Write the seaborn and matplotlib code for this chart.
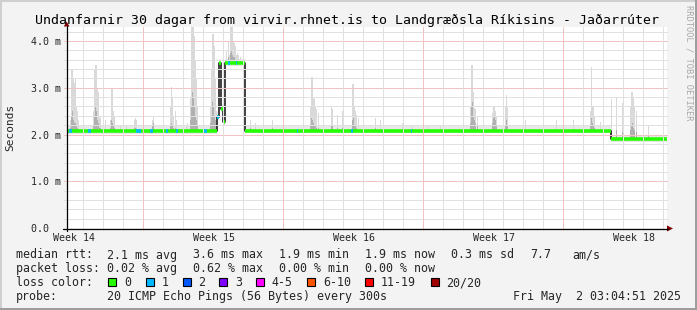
import numpy as np
import pandas as pd
import matplotlib
matplotlib.use("Agg")
import matplotlib.pyplot as plt
import seaborn as sns
from matplotlib.patches import Rectangle, Polygon

sns.set_style("white")
plt.rcParams["font.family"] = ["DejaVu Sans Mono", "DejaVu Sans"]

# ---------------- data ----------------
title = "Undanfarnir 30 dagar from virvir.rhnet.is to Landgræðsla Ríkisins - Jaðarrúter"
week_labels = ["Week 14", "Week 15", "Week 16", "Week 17", "Week 18"]
week_centers = [0.35, 7.35, 14.35, 21.35, 28.35]      # days since start
week_starts = [3.8, 10.8, 17.8, 24.8]                 # major grid (days)
day_lines = [0.8 + k for k in range(30)]              # minor grid (days)
y_ticks = [0, 1, 2, 3, 4]
y_tick_labels = ["0.0  ", "1.0 m", "2.0 m", "3.0 m", "4.0 m"]

# median rtt (ms), step function: value holds from med_day[i] to med_day[i+1]
med_day = [0, 7.50, 7.60, 7.70, 7.80, 7.90, 8.90, 27.20]
med_ms = [2.075, 2.38, 3.52, 2.55, 2.27, 3.52, 2.085, 1.90]

# periods with 1/20 packet loss (days)
loss1_start = [0.10, 1.05, 3.45, 4.15, 4.95, 5.45, 6.80, 7.50, 8.05, 8.45, 11.50, 14.20, 17.20]
loss1_end = [0.25, 1.20, 3.70, 4.30, 5.05, 5.55, 7.00, 7.60, 8.15, 8.50, 11.55, 14.30, 17.25]

# smoke (ping spread) per column: day, highest ping (ms), dense core top (ms)
smoke_day = [0.15, 0.20, 0.25, 0.30, 0.35, 0.40, 0.45, 0.50, 0.55,
             1.30, 1.35, 1.40, 1.45, 1.50, 1.55, 1.60, 1.65,
             1.80, 1.90,
             2.15, 2.20, 2.25, 2.30, 2.35,
             2.65, 2.80, 2.95,
             3.35, 3.40, 3.45,
             4.25, 4.30,
             5.15, 5.20, 5.25, 5.30, 5.40, 5.45,
             5.95, 6.00,
             6.15, 6.20, 6.25, 6.30, 6.35, 6.40, 6.45, 6.50,
             7.15, 7.20, 7.25, 7.30, 7.35, 7.40, 7.45,
             7.95, 8.05, 8.10, 8.15, 8.20, 8.25, 8.30, 8.35, 8.40, 8.45, 8.50, 8.55, 8.65, 8.75,
             9.15, 9.40, 9.80, 10.25, 10.80,
             12.15, 12.20, 12.25, 12.30, 12.35, 12.40, 12.45, 12.55,
             13.20, 13.25, 13.50, 13.75,
             14.25, 14.30, 14.35, 14.40, 14.45, 14.55,
             15.40, 15.65, 16.75, 17.25, 18.05, 18.65,
             20.15, 20.20, 20.25, 20.30, 20.35, 20.40, 20.50,
             21.25, 21.30, 21.35, 21.40, 21.45,
             21.90, 21.95, 22.00,
             22.90, 24.45, 25.30,
             26.15, 26.20, 26.25, 26.30, 26.35, 26.65,
             27.20, 27.45, 27.75, 28.15, 28.20, 28.25, 28.30, 28.35, 28.45, 29.05]
smoke_top = [2.30, 3.39, 3.39, 3.20, 3.10, 3.20, 2.60, 2.50, 2.30,
             2.50, 3.38, 3.49, 3.49, 3.00, 2.90, 2.40, 2.35,
             2.40, 2.30,
             2.30, 2.99, 2.99, 2.50, 2.40,
             2.20, 2.25, 2.20,
             2.30, 2.35, 2.30,
             2.30, 2.40,
             2.60, 3.01, 2.80, 2.40, 2.50, 2.30,
             2.20, 2.25,
             2.80, 4.30, 4.30, 4.30, 4.10, 3.60, 3.20, 2.60,
             2.60, 3.40, 4.16, 4.16, 3.90, 3.20, 2.50,
             3.80, 4.00, 3.70, 4.30, 4.30, 4.30, 4.00, 3.95, 3.90, 3.70, 3.75, 3.70, 3.65, 3.60,
             2.30, 2.25, 2.20, 2.31, 2.40,
             2.60, 3.24, 3.24, 2.80, 2.77, 2.60, 2.55, 2.45,
             2.60, 2.55, 2.42, 2.50,
             3.09, 3.09, 2.60, 2.50, 2.42, 2.35,
             2.35, 2.30, 2.25, 2.20, 2.20, 2.20,
             2.60, 3.49, 3.49, 2.90, 2.56, 2.55, 2.40,
             2.45, 2.60, 2.60, 2.50, 2.40,
             2.60, 2.85, 2.60,
             2.30, 2.30, 2.31,
             2.50, 3.44, 2.60, 2.60, 2.40, 2.27,
             2.75, 2.81, 2.67, 2.60, 2.92, 2.92, 2.80, 2.60, 2.50, 2.20]
smoke_core = [2.15, 2.40, 2.50, 2.30, 2.25, 2.25, 2.20, 2.15, 2.12,
              2.20, 2.40, 2.60, 2.50, 2.30, 2.25, 2.15, 2.15,
              2.15, 2.12,
              2.15, 2.30, 2.25, 2.18, 2.15,
              2.12, 2.12, 2.12,
              2.15, 2.15, 2.12,
              2.20, 2.25,
              2.20, 2.25, 2.20, 2.15, 2.15, 2.12,
              2.12, 2.12,
              2.30, 2.60, 2.90, 2.80, 2.60, 2.40, 2.30, 2.20,
              2.25, 2.40, 2.70, 2.60, 2.40, 2.30, 2.20,
              3.60, 3.65, 3.60, 3.75, 3.80, 3.70, 3.65, 3.65, 3.60, 3.60, 3.60, 3.58, 3.58, 3.56,
              2.15, 2.12, 2.12, 2.15, 2.15,
              2.20, 2.35, 2.30, 2.25, 2.20, 2.18, 2.15, 2.15,
              2.20, 2.18, 2.15, 2.15,
              2.30, 2.35, 2.20, 2.18, 2.15, 2.12,
              2.15, 2.12, 2.12, 2.12, 2.12, 2.12,
              2.25, 2.60, 2.70, 2.40, 2.30, 2.25, 2.18,
              2.25, 2.35, 2.40, 2.30, 2.20,
              2.20, 2.30, 2.20,
              2.12, 2.12, 2.12,
              2.20, 2.35, 2.25, 2.20, 2.15, 2.12,
              2.10, 2.10, 2.05, 2.10, 2.20, 2.25, 2.15, 2.10, 2.05, 2.00]

loss_labels = ["0", "1", "2", "3", "4-5", "6-10", "11-19", "20/20"]
loss_colors = ["#26ff00", "#00b8ff", "#0059ff", "#7e00ff", "#ff00ff", "#ff5500", "#ff0000", "#a10000"]

stats_rtt = ["2.1 ms avg", "3.6 ms max", "1.9 ms min", "1.9 ms now", "0.3 ms sd", "7.7", "am/s"]
stats_loss = ["0.02 % avg", "0.62 % max", "0.00 % min", "0.00 % now"]
probe_text = "20 ICMP Echo Pings (56 Bytes) every 300s"
stamp_text = "Fri May  2 03:04:51 2025"

# ---------------- figure ----------------
W, H = 697, 310
BG = "#f3f3f3"
fig = plt.figure(figsize=(W / 100, H / 100), dpi=100, facecolor=BG)
L, R, T, B = 67, 667, 27, 228
ax = fig.add_axes([L / W, 1 - B / H, (R - L) / W, (B - T) / H])
ax.set_facecolor("white")
XMAX, YMAX = 30, 4.3
ax.set_xlim(0, XMAX)
ax.set_ylim(0, YMAX)
for s in ax.spines.values():
    s.set_visible(False)

med_x = np.array(med_day + [XMAX])
med_y = np.array(med_ms + [med_ms[-1]])

def base_at(d):
    i = np.searchsorted(med_x, d, side="right") - 1
    return med_y[np.clip(i, 0, len(med_y) - 1)]

# faint smoke band around the median
ax.fill_between(med_x, med_y - 0.06, med_y + 0.10, step="post", color="#e8e8e8", lw=0, zorder=1)

# smoke spikes
sd = np.array(smoke_day)
base = np.array([base_at(d) for d in sd])
ax.bar(sd, np.array(smoke_top) - base, bottom=base, width=0.055, color="#d9d9d9", lw=0, zorder=2, align="edge")
ax.bar(sd, np.array(smoke_core) - base, bottom=base, width=0.055, color="#b0b0b0", lw=0, zorder=3, align="edge")

# median: thin dark line, then loss-coloured thick horizontals
df = pd.DataFrame({"day": med_x, "ms": med_y})
sns.lineplot(data=df, x="day", y="ms", drawstyle="steps-post", color="#202020", lw=1.2,
             ax=ax, estimator=None, zorder=4)
ax.hlines(med_y[:-1], med_x[:-1], med_x[1:], color=loss_colors[0], lw=2.6, capstyle="butt", zorder=5)
for s0, s1 in zip(loss1_start, loss1_end):
    ax.hlines(base_at(s0), s0, s1, color=loss_colors[1], lw=2.6, capstyle="butt", zorder=6)

# grid (drawn over the data, like rrdtool); fine dotted lines seen at full scale
gkw = dict(lw=0.72, zorder=7, clip_on=False)
for k in range(1, 22):
    v = k / 5
    col = "#f0c2c2" if k % 5 == 0 else "#e0e0e0"
    ax.plot([-0.15, XMAX], [v, v], color=col, **gkw)
for d in day_lines:
    col = "#f0c2c2" if min(abs(d - w) for w in week_starts) < 0.01 else "#e0e0e0"
    ax.plot([d, d], [-0.05, YMAX], color=col, **gkw)

ax.set_xlabel("")
ax.set_ylabel("")
ax.set_xticks(week_centers, week_labels)
ax.set_yticks(y_ticks, y_tick_labels)
ax.tick_params(axis="x", length=0, pad=3.5, labelsize=7.2)
ax.tick_params(axis="y", length=0, pad=4.3, labelsize=7.2)
for t in ax.get_xticklabels() + ax.get_yticklabels():
    t.set_fontfamily("DejaVu Sans Mono")

# ---------------- overlay (frame, axes arrows, texts) ----------------
ov = fig.add_axes([0, 0, 1, 1], facecolor="none")
ov.set_xlim(0, W)
ov.set_ylim(H, 0)
ov.axis("off")

ov.plot([0, W], [0.5, 0.5], color="#cfcfcf", lw=1.44)
ov.plot([0.5, 0.5], [0, H], color="#cfcfcf", lw=1.44)
ov.plot([0, W], [H - 1, H - 1], color="#9e9e9e", lw=1.44)
ov.plot([W - 1, W - 1], [0, H], color="#9e9e9e", lw=1.44)

ov.plot([66.5, 66.5], [231, 26], color="black", lw=0.9)
ov.plot([63, 668], [228.5, 228.5], color="black", lw=0.9)
ov.add_patch(Polygon([(63.8, 26.5), (69.5, 26.5), (66.6, 21.5)], closed=True, color="#7f0000", lw=0))
ov.add_patch(Polygon([(667, 225.5), (667, 231.5), (673, 228.5)], closed=True, color="#7f0000", lw=0))

ov.text(347, 24, title, ha="center", va="baseline", fontsize=9.5, color="black")
ov.text(10, 127, "Seconds", rotation=90, ha="center", va="center", fontsize=8)
ov.text(689, 5, "RRDTOOL / TOBI OETIKER", rotation=270, ha="center", va="top", fontsize=6.3, color="#a8a8a8")

fs = 8.4
rows = [258.5, 272.2, 286.0, 299.7]
ov.text(16, rows[0], "median rtt:", fontsize=fs, va="baseline")
for x, s in zip([107.3, 193.3, 279.2, 365.2, 451.2, 530.7, 572.3], stats_rtt):
    ov.text(x, rows[0], s, fontsize=fs, va="baseline")
ov.text(16, rows[1], "packet loss:", fontsize=fs, va="baseline")
for x, s in zip([107.3, 193.3, 279.2, 365.2], stats_loss):
    ov.text(x, rows[1], s, fontsize=fs, va="baseline")
ov.text(16, rows[2], "loss color:", fontsize=fs, va="baseline")
box_x = [108.3, 145.7, 182.7, 219.3, 256.0, 307.3, 365.3, 430.7]
for bx, lab, col in zip(box_x, loss_labels, loss_colors):
    ov.add_patch(Rectangle((bx, 278.2), 7.8, 8.2, facecolor=col, edgecolor="black", lw=0.8))
    ov.text(bx + 15.5, rows[2], lab, fontsize=fs, va="baseline")
ov.text(16, rows[3], "probe:", fontsize=fs, va="baseline")
ov.text(107.3, rows[3], probe_text, fontsize=fs, va="baseline")
ov.text(513.3, rows[3], stamp_text, fontsize=fs, va="baseline")

fig.savefig("out.png", dpi=100, facecolor=BG)
